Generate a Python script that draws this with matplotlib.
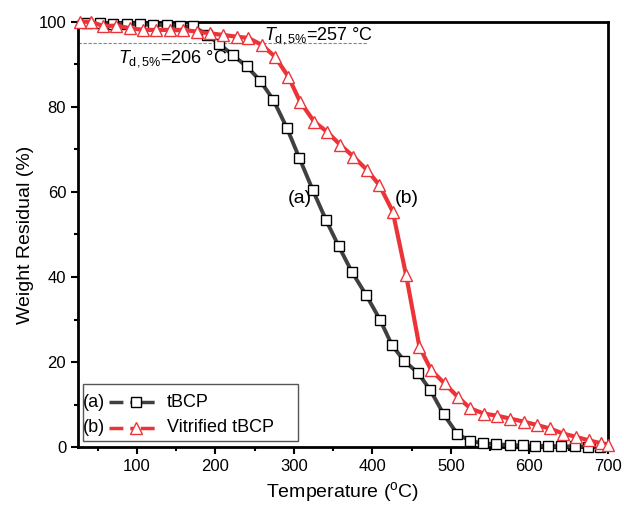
import matplotlib.pyplot as plt
from matplotlib.lines import Line2D
from matplotlib.patches import Rectangle
from matplotlib.ticker import MultipleLocator

plt.rcParams['font.family'] = ['Liberation Sans', 'DejaVu Sans']
plt.rcParams['mathtext.fontset'] = 'custom'
plt.rcParams['mathtext.rm'] = 'Liberation Sans'
plt.rcParams['mathtext.it'] = 'Liberation Sans:italic'

# tBCP (a)
temp_a = [36, 53, 70, 87, 104, 121, 138, 155, 172, 189, 205, 222, 240, 257,
          274, 291, 307, 324, 341, 357, 374, 392, 410, 425, 441, 458, 474,
          491, 508, 524, 541, 558, 575, 592, 607, 624, 641, 658, 675, 690]
wt_a = [99.8, 99.7, 99.6, 99.5, 99.4, 99.3, 99.2, 99.0, 98.9, 97.0, 94.8,
        92.2, 89.5, 86.2, 81.6, 75.1, 68.0, 60.5, 53.4, 47.3, 41.2, 35.8,
        29.9, 24.0, 20.2, 17.5, 13.4, 7.7, 3.2, 1.5, 0.9, 0.7, 0.5, 0.4,
        0.3, 0.3, 0.2, 0.2, 0.1, 0.1]

# Vitrified tBCP (b)
temp_b = [27, 42, 57, 74, 91, 108, 125, 142, 159, 176, 193, 210, 227, 242,
          259, 276, 293, 308, 326, 342, 359, 376, 393, 409, 426, 443, 460,
          475, 492, 509, 525, 542, 559, 576, 593, 610, 626, 643, 660, 676,
          692, 700]
wt_b = [100.0, 100.0, 99.0, 99.1, 98.5, 98.1, 98.1, 98.1, 98.1, 97.7, 97.3,
        96.9, 96.5, 96.2, 94.6, 91.8, 87.1, 81.2, 76.5, 74.2, 71.1, 68.3,
        65.2, 61.6, 55.4, 40.5, 23.6, 18.1, 15.0, 11.8, 9.1, 7.9, 7.4, 6.7,
        6.0, 5.2, 4.4, 3.2, 2.4, 1.6, 0.9, 0.5]

td5_level = 95
td5_end = 393

gray = '#404040'
red = '#ec3338'

fig = plt.figure(figsize=(6.24, 5.07), dpi=100)
ax = fig.add_axes([0.125, 0.118, 0.849, 0.839])

ax.hlines(td5_level, 25, td5_end, colors='#888888', linestyles=(0, (3, 1.5)), linewidth=0.8, zorder=1)

ax.plot(temp_a, wt_a, color=gray, lw=2.8, marker='s', ms=6.5, mfc='white',
        mec='black', mew=1.0, zorder=3, clip_on=False)
ax.plot(temp_b, wt_b, color=red, lw=3.0, marker='^', ms=9, mfc='white',
        mec=red, mew=1.0, zorder=4, clip_on=False)

ax.set_xlim(25, 700)
ax.set_ylim(0, 100)
ax.xaxis.set_major_locator(MultipleLocator(100))
ax.xaxis.set_minor_locator(MultipleLocator(50))
ax.yaxis.set_major_locator(MultipleLocator(20))
ax.yaxis.set_minor_locator(MultipleLocator(10))
ax.tick_params(which='both', direction='out', width=1.5, labelsize=12, top=False, right=False)
ax.tick_params(which='major', length=5)
ax.tick_params(which='minor', length=3)
for s in ax.spines.values():
    s.set_linewidth(2)

ax.set_xlabel('Temperature ($\\mathregular{^{o}}$C)', fontsize=14, labelpad=4)
ax.set_ylabel('Weight Residual (%)', fontsize=14, labelpad=3)

ax.text(262, 96.7, '$\\mathit{T}_{\\mathregular{d,5\\%}}$=257 °C', fontsize=13, va='center')
ax.text(76, 91.3, '$\\mathit{T}_{\\mathregular{d,5\\%}}$=206 °C', fontsize=13, va='center')
ax.text(307, 58.5, '(a)', fontsize=14, ha='center', va='center')
ax.text(444, 58.5, '(b)', fontsize=14, ha='center', va='center')

# legend box
ax.add_patch(Rectangle((0.009, 0.014), 0.406, 0.134, transform=ax.transAxes,
                       fill=True, facecolor='white', edgecolor='#555555', lw=1, zorder=5))
row_a, row_b = 0.106, 0.046
ax.text(0.010, row_a, '(a)', transform=ax.transAxes, fontsize=13, va='center', zorder=6)
ax.text(0.010, row_b, '(b)', transform=ax.transAxes, fontsize=13, va='center', zorder=6)
ax.text(0.168, row_a, 'tBCP', transform=ax.transAxes, fontsize=13, va='center', zorder=6)
ax.text(0.168, row_b, 'Vitrified tBCP', transform=ax.transAxes, fontsize=13, va='center', zorder=6)
ax.add_line(Line2D([0.058, 0.155], [row_a, row_a], transform=ax.transAxes, color=gray,
                   lw=2.5, ls=(0, (4, 2, 1, 2)), zorder=6))
ax.add_line(Line2D([0.109], [row_a], transform=ax.transAxes, marker='s', ms=6.5,
                   mfc='white', mec='black', mew=1.0, ls='none', zorder=7))
ax.add_line(Line2D([0.058, 0.155], [row_b, row_b], transform=ax.transAxes, color=red,
                   lw=2.5, ls=(0, (4, 2, 1, 2)), zorder=6))
ax.add_line(Line2D([0.109], [row_b], transform=ax.transAxes, marker='^', ms=9,
                   mfc='white', mec=red, mew=1.0, ls='none', zorder=7))

fig.savefig('out.png', dpi=100)
